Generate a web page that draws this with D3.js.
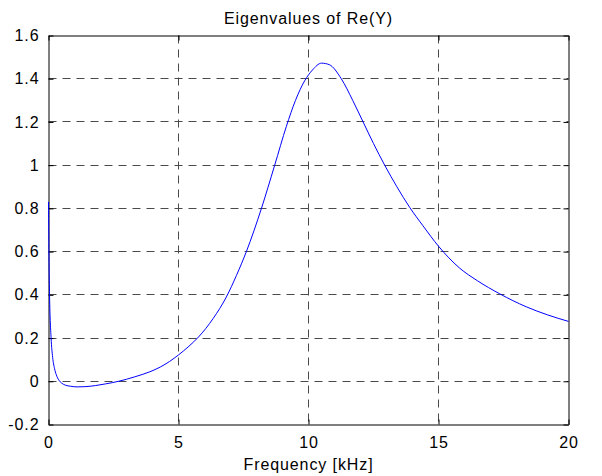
<!DOCTYPE html>
<html>
<head>
<meta charset="utf-8">
<script src="https://cdn.jsdelivr.net/npm/d3@7"></script>
<style>
  html, body { margin: 0; padding: 0; background: #fff; }
  svg { display: block; }
  text { font-family: "Liberation Sans", Arial, Helvetica, sans-serif; font-size: 16px; fill: #000; letter-spacing: 0.9px; }
</style>
</head>
<body>
<div id="chart"></div>
<script>
const title = "Eigenvalues of Re(Y)";
const xLabel = "Frequency [kHz]";
const xTicks = [0, 5, 10, 15, 20];
const yTicks = [-0.2, 0, 0.2, 0.4, 0.6, 0.8, 1, 1.2, 1.4, 1.6];
const freq = [0, 0.02, 0.04, 0.1, 0.16, 0.23, 0.3, 0.4, 0.5, 0.65, 0.85, 1.1, 1.4, 1.8, 2.2, 2.7, 3.3, 3.9, 4.3, 4.66, 5.0, 5.4, 5.77, 6.33, 6.84, 7.23, 7.61, 8.19, 8.7, 9.15, 9.5, 9.85, 10.15, 10.5, 10.8, 11.26, 11.7, 12.1, 12.5, 12.93, 13.4, 13.89, 14.4, 15.0, 15.8, 16.5, 17.35, 18.37, 19.2, 20];
const eig = [0.83, 0.55, 0.40, 0.20, 0.11, 0.06, 0.03, 0.005, -0.008, -0.018, -0.023, -0.026, -0.025, -0.02, -0.012, 0.0, 0.02, 0.044, 0.066, 0.092, 0.122, 0.162, 0.205, 0.29, 0.39, 0.49, 0.60, 0.80, 1.00, 1.18, 1.30, 1.39, 1.44, 1.472, 1.465, 1.40, 1.30, 1.20, 1.10, 1.00, 0.90, 0.805, 0.72, 0.625, 0.525, 0.465, 0.405, 0.345, 0.307, 0.277];

const W = 602, H = 476;
const m = { left: 48.5, right: 33.5, top: 35.5, bottom: 51.5 };
const iw = W - m.left - m.right, ih = H - m.top - m.bottom;

const svg = d3.select("#chart").append("svg").attr("width", W).attr("height", H);
const g = svg.append("g").attr("transform", `translate(${m.left},${m.top})`);

const x = d3.scaleLinear().domain([0, 20]).range([0, iw]);
const y = d3.scaleLinear().domain([-0.2, 1.6]).range([ih, 0]);

// grid
const dash = "8,6";
g.append("g").selectAll("line").data(xTicks.slice(1, -1)).join("line")
  .attr("x1", d => Math.round(x(d))).attr("x2", d => Math.round(x(d)))
  .attr("y1", 0).attr("y2", ih)
  .attr("stroke", "#4a4a4a").attr("stroke-width", 1).attr("stroke-dasharray", dash);
g.append("g").selectAll("line").data(yTicks.slice(1, -1)).join("line")
  .attr("x1", 0).attr("x2", iw)
  .attr("y1", d => Math.round(y(d))).attr("y2", d => Math.round(y(d)))
  .attr("stroke", "#4a4a4a").attr("stroke-width", 1).attr("stroke-dasharray", dash);

// axes
const fmt = d => (Math.round(d * 10) / 10).toString();
const xAxisB = d3.axisBottom(x).tickValues(xTicks).tickSizeInner(-5).tickSizeOuter(0).tickPadding(12).tickFormat(fmt);
const xAxisT = d3.axisTop(x).tickValues(xTicks).tickSizeInner(-5).tickSizeOuter(0).tickFormat("");
const yAxisL = d3.axisLeft(y).tickValues(yTicks).tickSizeInner(-5).tickSizeOuter(0).tickPadding(9).tickFormat(fmt);
const yAxisR = d3.axisRight(y).tickValues(yTicks).tickSizeInner(-5).tickSizeOuter(0).tickFormat("");

function style(sel) {
  sel.select(".domain").attr("stroke", "#000").attr("stroke-width", 1);
  sel.selectAll(".tick line").attr("stroke", "#000");
  sel.selectAll(".tick text").attr("font-size", 16).attr("font-family", "Liberation Sans, Arial, sans-serif").attr("fill", "#000");
}
g.append("g").attr("transform", `translate(0,${ih})`).call(xAxisB).call(style);
g.append("g").call(xAxisT).call(style);
g.append("g").call(yAxisL).call(style);
g.append("g").attr("transform", `translate(${iw},0)`).call(yAxisR).call(style);

// curve
const pts = freq.map((f, i) => [f, eig[i]]);
g.append("path").datum(pts)
  .attr("fill", "none").attr("stroke", "#0000ff").attr("stroke-width", 1)
  .attr("d", d3.line().x(d => x(d[0])).y(d => y(d[1])).curve(d3.curveMonotoneX));

// title & labels
svg.append("text").attr("x", m.left + iw / 2).attr("y", 23.5).attr("text-anchor", "middle").text(title);
svg.append("text").attr("x", m.left + iw / 2).attr("y", 469.5).attr("text-anchor", "middle").text(xLabel);
</script>
</body>
</html>
